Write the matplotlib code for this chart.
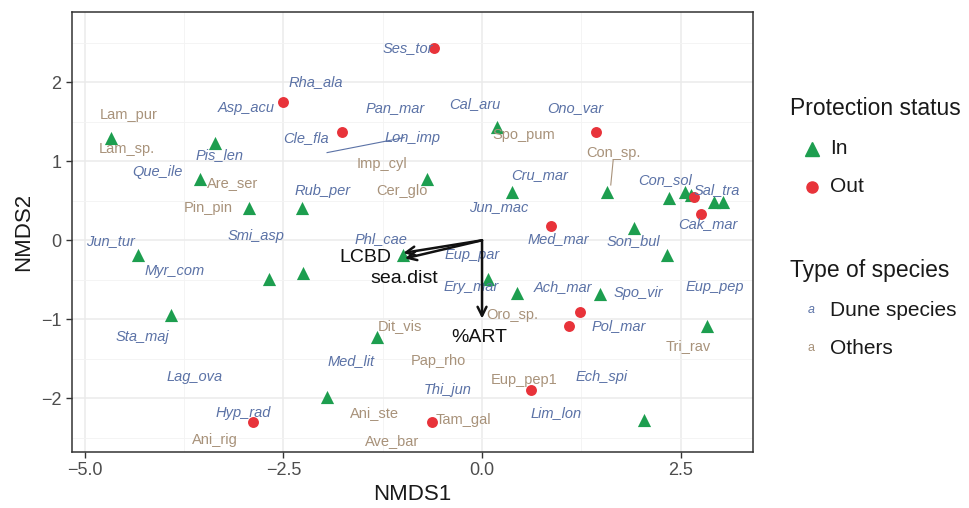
import matplotlib
matplotlib.use("Agg")
import matplotlib.pyplot as plt
from matplotlib.lines import Line2D

plt.rcParams['font.family'] = ['Liberation Sans', 'DejaVu Sans']

# Site scores (protection status)
in_x = [-4.67, -3.36, -3.55, -2.93, -2.26, -4.33, -2.68, -2.25, -3.92, -0.69, 0.38, -0.99,
        0.08, 0.44, 0.19, 1.57, 2.35, 2.55, 2.63, 2.92, 3.03, 1.91, 2.33, 1.48, 2.83, 2.04,
        -1.32, -1.95]
in_y = [1.29, 1.23, 0.77, 0.41, 0.41, -0.19, -0.49, -0.42, -0.94, 0.78, 0.61, -0.18,
        -0.49, -0.67, 1.43, 0.61, 0.54, 0.61, 0.57, 0.49, 0.48, 0.15, -0.18, -0.68, -1.08, -2.27,
        -1.22, -1.99]
out_x = [-2.50, -0.60, -1.76, 1.43, 0.87, 2.67, 2.75, 1.23, 1.10, 0.62, -0.63, -2.88]
out_y = [1.75, 2.44, 1.37, 1.37, 0.18, 0.55, 0.33, -0.91, -1.08, -1.89, -2.30, -2.30]

# Species labels
dune_names = ["Ses_tor", "Rha_ala", "Asp_acu", "Pan_mar", "Cal_aru", "Ono_var", "Cle_fla", "Lon_imp",
              "Pis_len", "Que_ile", "Rub_per", "Cru_mar", "Con_sol", "Sal_tra", "Cak_mar", "Jun_mac",
              "Smi_asp", "Phl_cae", "Med_mar", "Son_bul", "Jun_tur", "Eup_par", "Myr_com", "Ery_mar",
              "Ach_mar", "Spo_vir", "Eup_pep", "Sta_maj", "Pol_mar", "Med_lit", "Lag_ova", "Ech_spi",
              "Thi_jun", "Hyp_rad", "Lim_lon"]
dune_x = [-0.93, -2.09, -2.97, -1.09, -0.09, 1.17, -2.21, -0.88,
          -3.30, -4.09, -2.01, 0.73, 2.30, 2.96, 2.84, 0.21,
          -2.84, -1.27, 0.96, 1.91, -4.68, -0.13, -3.87, -0.14,
          1.02, 1.97, 2.93, -4.28, 1.72, -1.65, -3.62, 1.51,
          -0.43, -3.01, 0.93]
dune_y = [2.44, 2.00, 1.68, 1.67, 1.72, 1.67, 1.30, 1.30,
          1.08, 0.86, 0.63, 0.82, 0.76, 0.63, 0.20, 0.42,
          0.05, 0.01, 0.01, -0.01, -0.01, -0.18, -0.39, -0.59,
          -0.59, -0.67, -0.59, -1.23, -1.09, -1.53, -1.73, -1.73,
          -1.90, -2.19, -2.19]
other_names = ["Lam_pur", "Lam_sp.", "Spo_pum", "Con_sp.", "Imp_cyl", "Are_ser", "Cer_glo", "Pin_pin",
               "Oro_sp.", "Dit_vis", "Pap_rho", "Eup_pep1", "Tri_rav", "Ani_ste", "Tam_gal", "Ave_bar",
               "Ani_rig"]
other_x = [-4.45, -4.47, 0.52, 1.65, -1.26, -3.14, -1.01, -3.45,
           0.38, -1.03, -0.55, 0.53, 2.60, -1.35, -0.24, -1.13, -3.36]
other_y = [1.58, 1.16, 1.33, 1.11, 0.97, 0.73, 0.63, 0.41,
           -0.94, -1.09, -1.53, -1.77, -1.34, -2.19, -2.28, -2.54, -2.53]

# Environmental vectors
vec_names = ["LCBD", "sea.dist", "%ART"]
vec_x = [-0.99, -0.97, 0.0]
vec_y = [-0.16, -0.23, -0.99]
vec_lab_x = [-1.47, -0.98, -0.03]
vec_lab_y = [-0.22, -0.48, -1.23]

GREEN = "#1d9e4f"
RED = "#e8333a"
BLUE = "#5b72a6"
TAN = "#a8927a"

fig = plt.figure(figsize=(9.69, 5.08), dpi=100)
ax = fig.add_axes([72/969, 1-452/508, (753-72)/969, (452-12)/508])

ax.set_xlim(-5.16, 3.41)
ax.set_ylim(-2.68, 2.89)
ax.set_xticks([-5.0, -2.5, 0.0, 2.5])
ax.set_xticklabels(["\u22125.0", "\u22122.5", "0.0", "2.5"])
ax.set_yticks([-2, -1, 0, 1, 2])
ax.set_yticklabels(["\u22122", "\u22121", "0", "1", "2"])
ax.set_xticks([-3.75, -1.25, 1.25], minor=True)
ax.set_yticks([-2.5, -1.5, -0.5, 0.5, 1.5, 2.5], minor=True)
ax.grid(which='major', color='#ebebeb', lw=1.1)
ax.grid(which='minor', color='#f3f3f3', lw=0.6)
ax.set_axisbelow(True)
ax.tick_params(which='minor', length=0)
ax.tick_params(which='major', length=4, color='#333333', labelsize=13, labelcolor='#4d4d4d', width=1)
for s in ax.spines.values():
    s.set_color('#333333')
    s.set_linewidth(1.1)

ax.set_xlabel("NMDS1", fontsize=16, color='#1a1a1a', labelpad=3)
ax.set_ylabel("NMDS2", fontsize=16, color='#1a1a1a', labelpad=5)

# segments from ggrepel
ax.plot([-0.98, -1.95], [1.30, 1.11], color=BLUE, lw=0.8, zorder=2)
ax.plot([1.65, 1.62], [1.01, 0.70], color=TAN, lw=0.8, zorder=2)

ax.scatter(in_x, in_y, marker='^', s=90, color=GREEN, zorder=3, linewidths=0)
ax.scatter(out_x, out_y, marker='o', s=62, color=RED, zorder=3, linewidths=0)

for n, x, y in zip(dune_names, dune_x, dune_y):
    ax.text(x, y, n, color=BLUE, fontsize=10.5, style='italic', ha='center', va='center', zorder=4)
for n, x, y in zip(other_names, other_x, other_y):
    ax.text(x, y, n, color=TAN, fontsize=10.5, ha='center', va='center', zorder=4)

for n, x, y, lx, ly in zip(vec_names, vec_x, vec_y, vec_lab_x, vec_lab_y):
    ax.annotate("", xy=(x, y), xytext=(0, 0),
                arrowprops=dict(arrowstyle='->', color='#111111', lw=1.8,
                                mutation_scale=16, shrinkA=0, shrinkB=0), zorder=5)
    ax.text(lx, ly, n, fontsize=14, color='#111111', ha='center', va='center', zorder=5)

# Legends
fig.text(790/969, 1-108/508, "Protection status", fontsize=16.5, color='#1a1a1a', va='center')
fig.lines.append(Line2D([812/969], [1-149/508], marker='^', ls='', color=GREEN, markersize=9.5,
                        transform=fig.transFigure, figure=fig))
fig.text(830/969, 1-149/508, "In", fontsize=15, color='#1a1a1a', va='center')
fig.lines.append(Line2D([812/969], [1-187/508], marker='o', ls='', color=RED, markersize=8,
                        transform=fig.transFigure, figure=fig))
fig.text(830/969, 1-187/508, "Out", fontsize=15, color='#1a1a1a', va='center')

fig.text(790/969, 1-270/508, "Type of species", fontsize=16.5, color='#1a1a1a', va='center')
fig.text(811/969, 1-310/508, "a", fontsize=9, color=BLUE, style='italic', ha='center', va='center')
fig.text(830/969, 1-310/508, "Dune species", fontsize=15, color='#1a1a1a', va='center')
fig.text(811/969, 1-348/508, "a", fontsize=9, color=TAN, ha='center', va='center')
fig.text(830/969, 1-348/508, "Others", fontsize=15, color='#1a1a1a', va='center')

fig.savefig("out.png", dpi=100)
